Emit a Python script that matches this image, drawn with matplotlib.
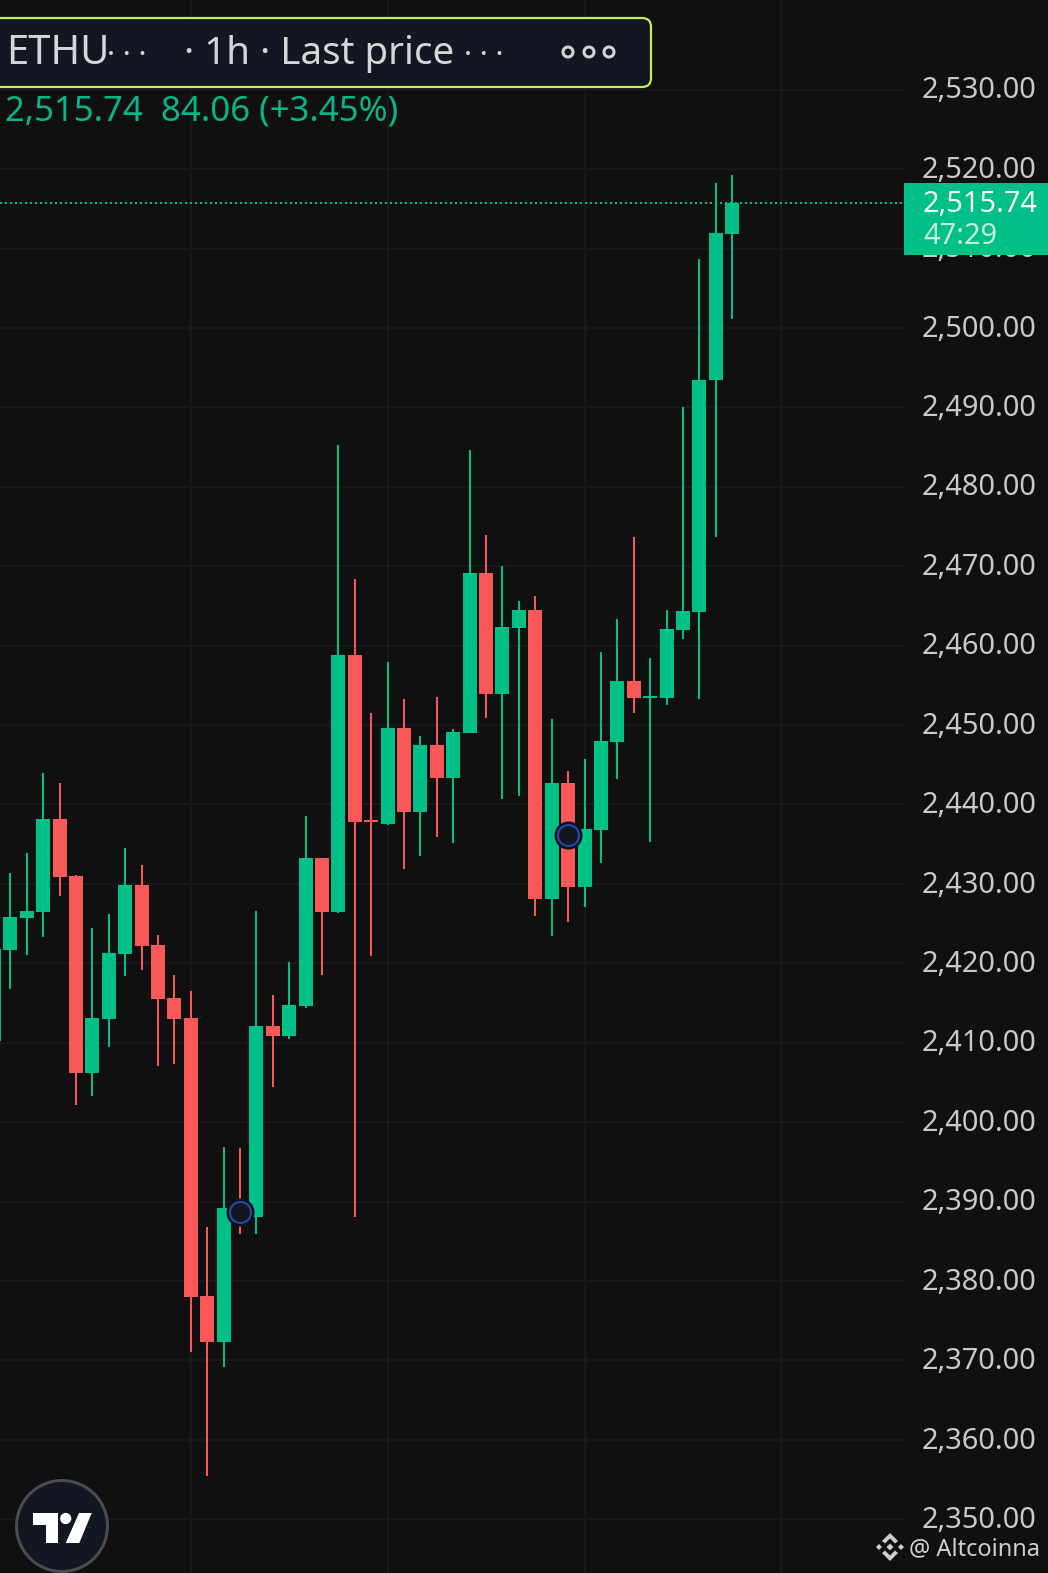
import matplotlib
matplotlib.use("Agg")
import matplotlib.pyplot as plt
from matplotlib.patches import FancyBboxPatch, Circle, Polygon, Rectangle

plt.rcParams['font.family'] = ['Noto Sans', 'DejaVu Sans']

# candle index of each row runs from -1 to 44
opens = [2410.2, 2421.7, 2425.7, 2426.5, 2438.2, 2431.0, 2406.2, 2413.0, 2421.2, 2429.9, 2422.3, 2415.6,
         2413.1, 2378.1, 2372.3, 2389.2, 2388.1, 2412.1, 2410.9, 2414.6, 2433.3, 2426.5, 2458.8, 2438.0,
         2437.5, 2449.6, 2439.1, 2447.5, 2443.3, 2449.0, 2469.1, 2453.9, 2462.2, 2464.5, 2428.1, 2442.7,
         2429.6, 2436.8, 2447.9, 2455.5, 2453.4, 2453.4, 2462.0, 2464.2, 2493.4, 2511.8]
closes = [2421.8, 2425.8, 2426.6, 2438.2, 2430.9, 2406.2, 2413.1, 2421.3, 2429.9, 2422.2, 2415.5, 2413.0,
          2378.0, 2372.3, 2389.2, 2388.1, 2412.1, 2410.9, 2414.8, 2433.3, 2426.5, 2458.8, 2437.8, 2437.8,
          2449.6, 2439.1, 2447.5, 2443.3, 2449.1, 2469.1, 2453.9, 2462.3, 2464.5, 2428.1, 2442.7, 2429.6,
          2436.9, 2448.0, 2455.5, 2453.4, 2453.7, 2462.1, 2464.4, 2493.4, 2512.0, 2515.74]
highs = [2423.0, 2431.4, 2433.9, 2444.0, 2442.7, 2431.1, 2424.5, 2426.2, 2434.5, 2432.4, 2423.6, 2418.5,
         2416.5, 2386.8, 2396.9, 2396.8, 2426.6, 2416.0, 2420.2, 2438.6, 2433.3, 2485.3, 2468.4, 2451.5,
         2457.9, 2453.3, 2448.6, 2453.5, 2449.5, 2484.6, 2473.9, 2470.0, 2465.6, 2466.3, 2450.8, 2444.2,
         2445.7, 2459.2, 2463.4, 2473.7, 2458.4, 2464.5, 2490.0, 2508.7, 2518.3, 2519.3]
lows = [2409.0, 2416.8, 2421.0, 2423.3, 2428.5, 2402.2, 2403.3, 2409.5, 2418.4, 2419.2, 2407.1, 2407.3,
        2371.1, 2355.5, 2369.2, 2385.9, 2385.9, 2404.4, 2410.5, 2414.4, 2418.5, 2426.4, 2388.1, 2420.9,
        2437.4, 2431.9, 2433.5, 2435.9, 2435.2, 2449.0, 2450.9, 2440.7, 2441.1, 2426.0, 2423.4, 2425.2,
        2427.1, 2432.6, 2443.2, 2451.5, 2435.3, 2452.5, 2460.8, 2453.3, 2473.7, 2501.1]
candle_index = list(range(-1, 45))
marker_index = [14, 34]
marker_price = [2388.65, 2436.2]
price_ticks = [2530, 2520, 2510, 2500, 2490, 2480, 2470, 2460, 2450, 2440,
               2430, 2420, 2410, 2400, 2390, 2380, 2370, 2360, 2350]
time_grid = [11, 23, 35, 47]
last_price = 2515.74

BG = '#101011'
GRID = '#19191b'
UP = '#00C087'
DOWN = '#F95858'
PX = 0.72

fig = plt.figure(figsize=(10.48, 15.73), dpi=100, facecolor=BG)
ax = fig.add_axes([0, 0, 1, 1], facecolor=BG)
XMIN, XMAX = -0.628, 63.25
ax.set_xlim(XMIN, XMAX)
ax.set_ylim(2343.24, 2541.29)
ax.axis('off')

axis_edge = 54.48
ax.hlines(price_ticks, XMIN, axis_edge, color=GRID, lw=2 * PX, zorder=1)
ax.vlines(time_grid, 2343.24, 2541.29, color=GRID, lw=2 * PX, zorder=1)

colors = [UP if c >= o else DOWN for o, c in zip(opens, closes)]
ax.vlines(candle_index, lows, highs, colors=colors, lw=2.0 * PX, zorder=3)
for i, o, c, col in zip(candle_index, opens, closes, colors):
    ax.bar(i, abs(c - o), bottom=min(o, c), width=0.853, color=col, lw=0, zorder=4)

ax.hlines(last_price, XMIN, axis_edge, color=UP, lw=2 * PX,
          linestyles=(0, (1, 1.5)), zorder=2)

ax.scatter(marker_index, marker_price, s=(26 * PX) ** 2, facecolor='#11161f',
           edgecolor='#0b0f1a', lw=2 * PX, zorder=6)
ax.scatter(marker_index, marker_price, s=(21 * PX) ** 2, facecolor='#11161f',
           edgecolor='#2648b8', lw=2 * PX, zorder=7)

# overlay in pixel space for the interface furniture
ui = fig.add_axes([0, 0, 1, 1], facecolor='none')
ui.set_xlim(0, 1048)
ui.set_ylim(1573, 0)
ui.axis('off')

for tick in price_ticks:
    ax.annotate(f'{tick:,.2f}', (axis_edge, tick), xycoords='data', xytext=(1036 - 904, -1.2),
                textcoords='offset pixels', ha='right', va='center', color='#c9c9c9',
                fontsize=29 * PX, zorder=8)

ui.add_patch(Rectangle((904, 183), 144, 72, fc=UP, ec='none', zorder=9))
ui.text(923, 204, '2,515.74', color='#f4fbf8', fontsize=29 * PX, va='center', ha='left', zorder=10)
ui.text(923, 236, '47:29', color='#c3eedd', fontsize=29 * PX, va='center', ha='left', zorder=10)

ui.add_patch(FancyBboxPatch((-10, 18), 661, 69, boxstyle='round,pad=0,rounding_size=9',
                            fc='#131722', ec='#c4ef4f', lw=2.2 * PX, zorder=9))
HEAD = '#d6d6d6'
ui.text(6, 54, 'ETHU', color=HEAD, fontsize=40 * PX, va='center', zorder=10)
ui.text(107, 56, '· · ·', color=HEAD, fontsize=30 * PX, va='center', zorder=10)
ui.text(184, 54, '· 1h · Last price', color=HEAD, fontsize=38.5 * PX, va='center', zorder=10)
ui.text(464, 56, '· · ·', color=HEAD, fontsize=30 * PX, va='center', zorder=10)
for cx in (568, 589, 609):
    ui.add_patch(Circle((cx, 52), 5, fc='none', ec=HEAD, lw=3 * PX, zorder=10))
ui.text(5, 111, '2,515.74  84.06 (+3.45%)', color='#08b586', fontsize=34.8 * PX, va='center', zorder=10)

# logo
ui.add_patch(Circle((62, 1526), 45.5, fc='#131722', ec='#4a4c50', lw=3 * PX, zorder=10))
ui.add_patch(Polygon([(33, 1513), (57.5, 1513), (57.5, 1543), (45.5, 1543), (45.5, 1524.5), (33, 1524.5)],
                     fc='white', ec='none', zorder=11))
ui.add_patch(Circle((65.7, 1518.5), 5.6, fc='white', ec='none', zorder=11))
ui.add_patch(Polygon([(79, 1513), (91.7, 1513), (79.3, 1543), (65.7, 1543)], fc='white', ec='none', zorder=11))

# watermark
WM = '#cfcfcf'
ui.text(1040, 1549, '@ Altcoinna', color=WM, fontsize=23.6 * PX, va='center', ha='right', zorder=10)
cx, cy = 890, 1547
def dia(x, y, r):
    ui.add_patch(Polygon([(x, y - r), (x + r, y), (x, y + r), (x - r, y)], fc=WM, ec='none', zorder=10))
dia(cx, cy, 3.5)
dia(cx - 11, cy, 3)
dia(cx + 11, cy, 3)
ui.add_patch(Polygon([(cx, cy - 14), (cx + 8, cy - 6), (cx + 5, cy - 3.5), (cx, cy - 8.5), (cx - 5, cy - 3.5), (cx - 8, cy - 6)],
                     fc=WM, ec='none', zorder=10))
ui.add_patch(Polygon([(cx, cy + 14), (cx + 8, cy + 6), (cx + 5, cy + 3.5), (cx, cy + 8.5), (cx - 5, cy + 3.5), (cx - 8, cy + 6)],
                     fc=WM, ec='none', zorder=10))

fig.savefig('out.png', dpi=100, facecolor=BG)
